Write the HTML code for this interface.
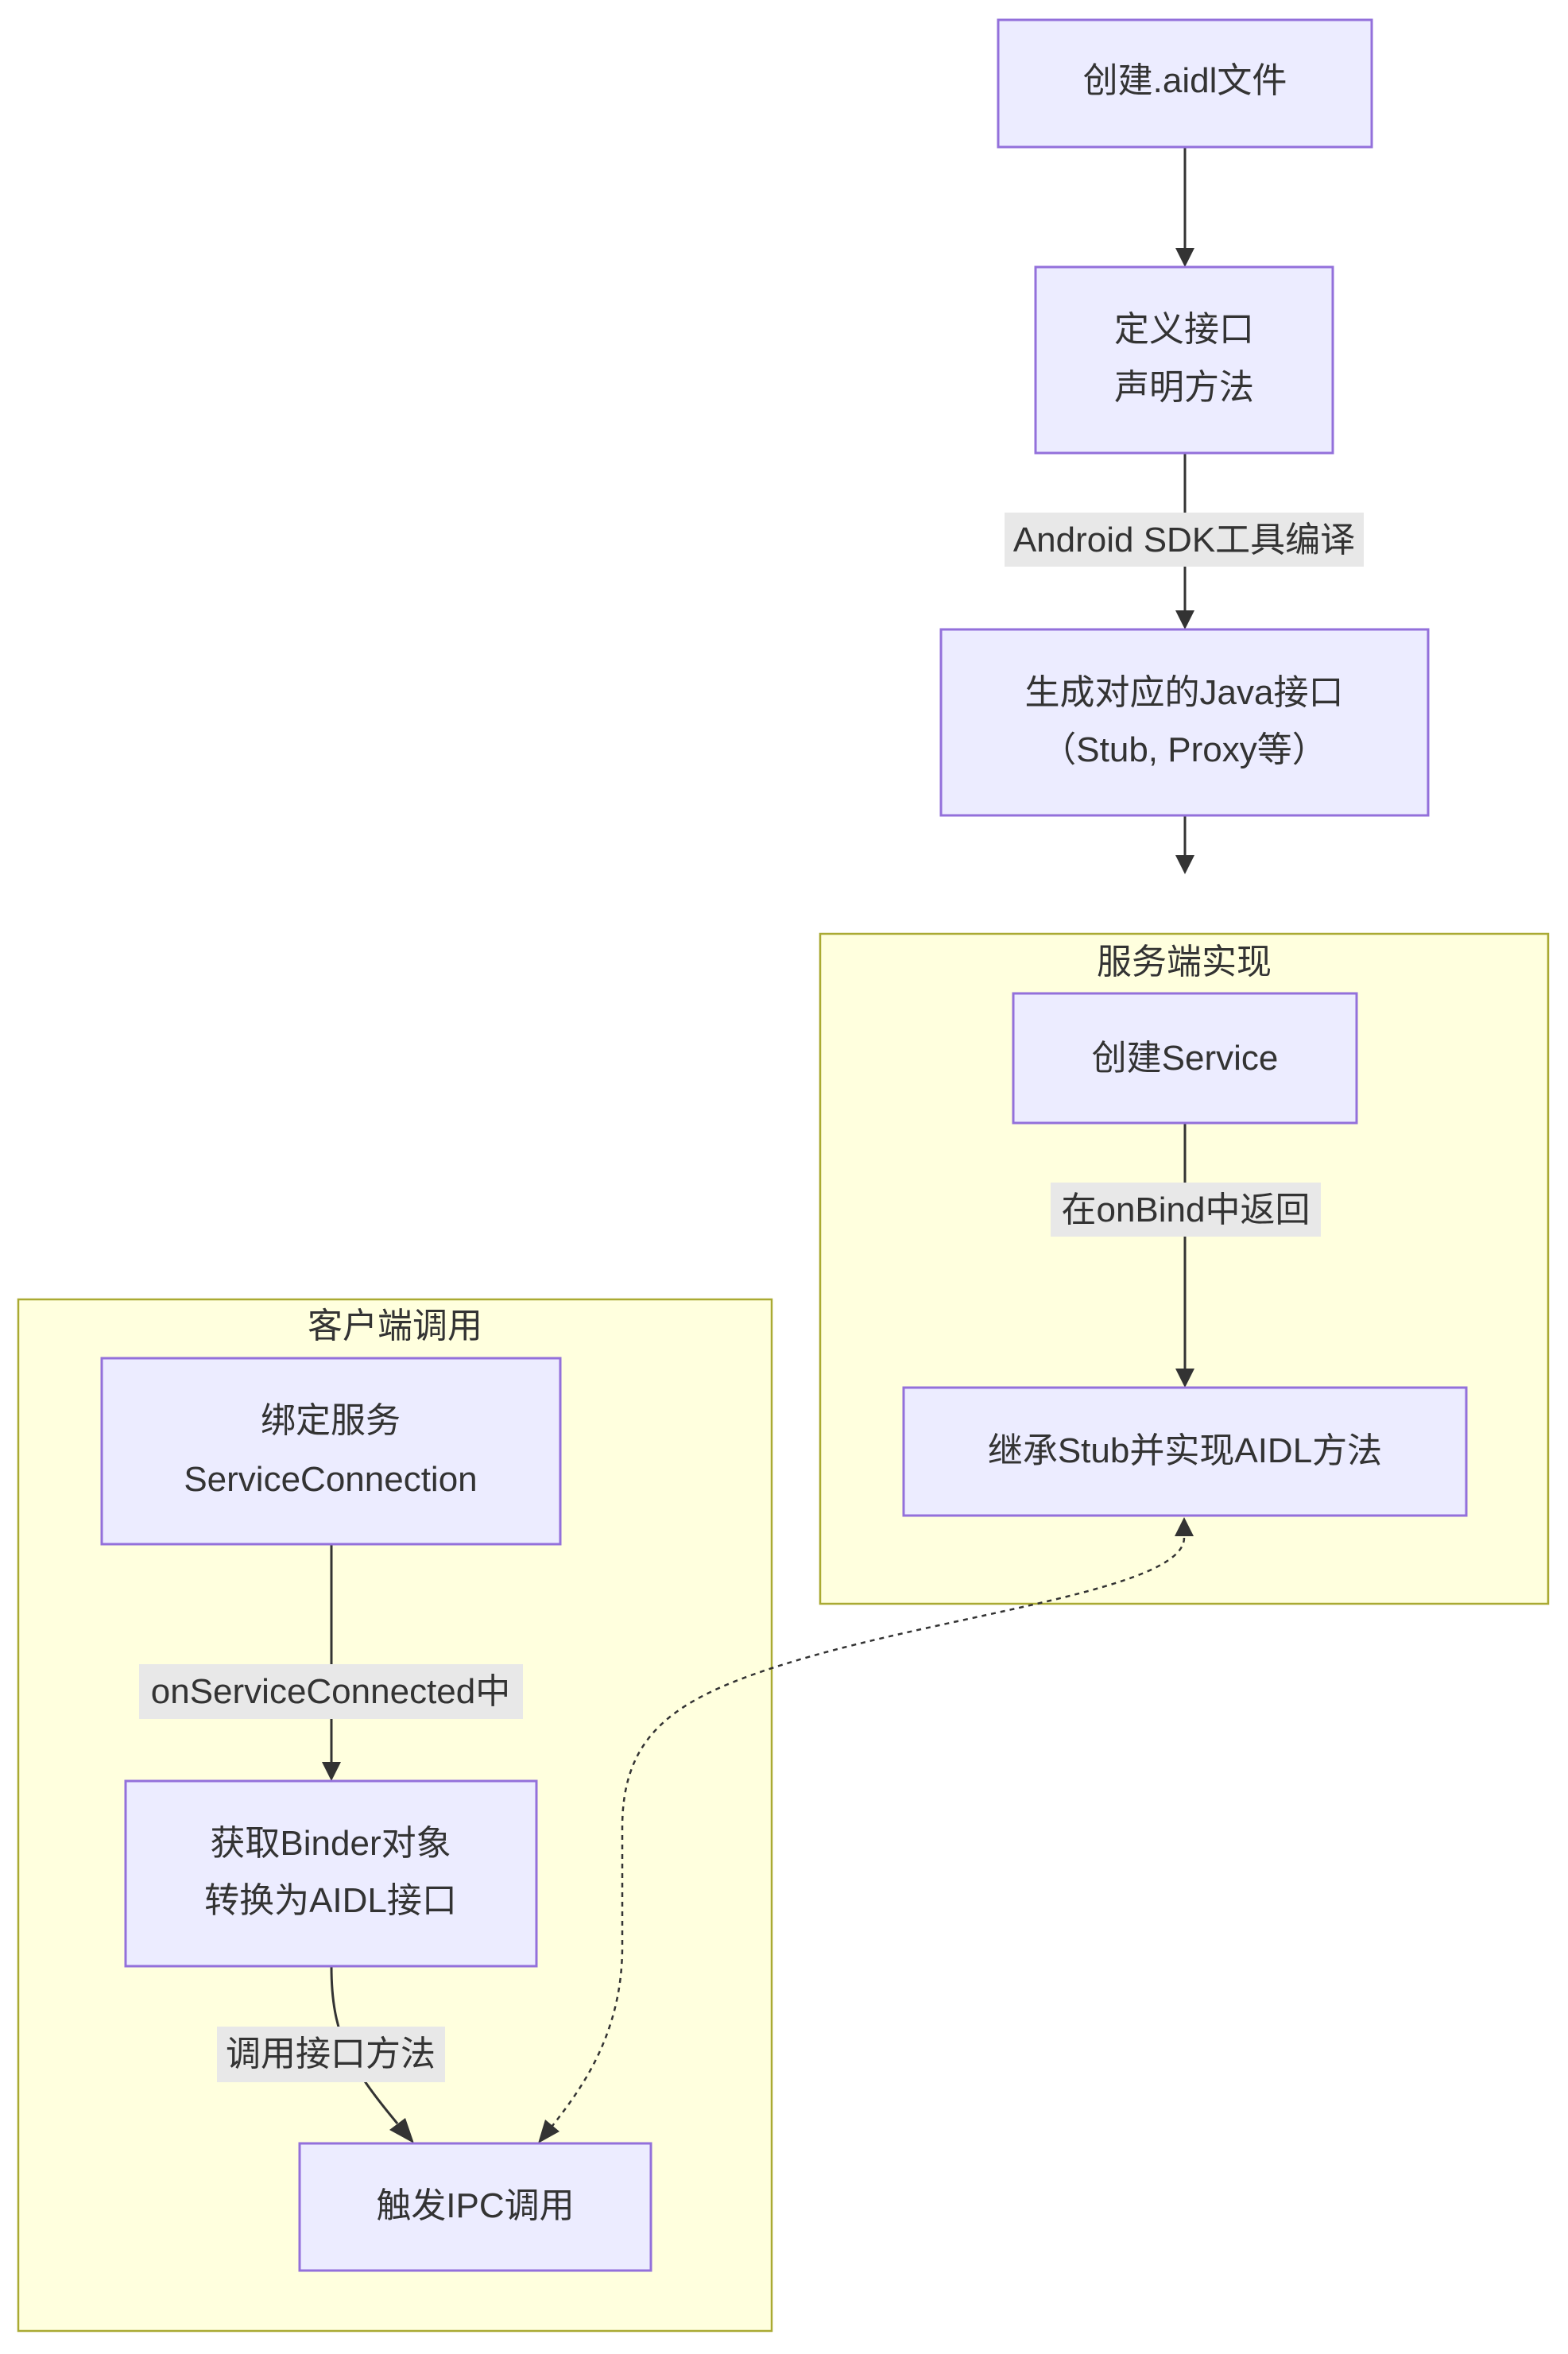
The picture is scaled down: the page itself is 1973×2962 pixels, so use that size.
<!DOCTYPE html>
<html><head><meta charset="utf-8"><style>
html,body{margin:0;padding:0;background:#fff;}
svg text{font-family:"Liberation Sans","Noto Sans CJK SC",sans-serif;fill:#333;font-size:44px;}
</style></head><body>
<svg width="1973" height="2957" viewBox="0 0 1973 2957" xmlns="http://www.w3.org/2000/svg">
<defs>
<marker id="ah" viewBox="0 0 10 10" refX="9" refY="5" markerWidth="8" markerHeight="8" markerUnits="userSpaceOnUse" orient="auto" style="overflow:visible">
<path d="M0,0 L10,5 L0,10 z" fill="#333" transform="scale(2.4) translate(-6,-3)"/>
</marker>
</defs>
<rect x="0" y="0" width="1973" height="2957" fill="#fff"/>
<!-- subgraphs -->
<rect x="1032" y="1175" width="916" height="843" fill="#ffffde" stroke="#aaaa33" stroke-width="2.5"/>
<text x="1490" y="1225" text-anchor="middle">服务端实现</text>
<rect x="23" y="1635" width="948" height="1298" fill="#ffffde" stroke="#aaaa33" stroke-width="2.5"/>
<text x="497" y="1683" text-anchor="middle">客户端调用</text>

<!-- edges -->
<g stroke="#333" stroke-width="3" fill="none">
<line x1="1491" y1="185" x2="1491" y2="312"/>
<line x1="1491" y1="570" x2="1491" y2="768"/>
<line x1="1491" y1="1026" x2="1491" y2="1078"/>
<line x1="1491" y1="1413" x2="1491" y2="1722"/>
<line x1="417" y1="1943" x2="417" y2="2217"/>
<path d="M417,2474 C417,2560 440,2600 500,2672"/>
<path d="M1490,1935 C1490,2000 1200,2030 1000,2090 C850,2135 783,2180 783,2300 L783,2450 C783,2560 730,2630 695,2675" stroke-dasharray="6,6" stroke-width="2.5"/>
</g>
<g fill="#333">
<polygon points="1479,312 1503,312 1491,336"/>
<polygon points="1479,768 1503,768 1491,792"/>
<polygon points="1479,1076 1503,1076 1491,1100"/>
<polygon points="1479,1722 1503,1722 1491,1746"/>
<polygon points="405,2217 429,2217 417,2241"/>
<polygon points="490,2680 510,2665 521,2697"/>
<polygon points="1478,1933 1502,1933 1490,1909"/>
<polygon points="686,2667 704,2682 677,2697"/>
</g>

<!-- edge labels -->
<rect x="1264" y="645" width="452" height="68" fill="#e8e8e8"/>
<text x="1490" y="694" text-anchor="middle">Android SDK工具编译</text>
<rect x="1322" y="1488" width="340" height="68" fill="#e8e8e8"/>
<text x="1492" y="1537" text-anchor="middle">在onBind中返回</text>
<rect x="175" y="2094" width="483" height="69" fill="#e8e8e8"/>
<text x="416" y="2143" text-anchor="middle">onServiceConnected中</text>
<rect x="273" y="2550" width="287" height="70" fill="#e8e8e8"/>
<text x="416" y="2599" text-anchor="middle">调用接口方法</text>

<!-- nodes -->
<g fill="#ececff" stroke="#9370db" stroke-width="3">
<rect x="1256" y="25" width="470" height="160"/>
<rect x="1303" y="336" width="374" height="234"/>
<rect x="1184" y="792" width="613" height="234"/>
<rect x="1275" y="1250" width="432" height="163"/>
<rect x="1137" y="1746" width="708" height="161"/>
<rect x="128" y="1709" width="577" height="234"/>
<rect x="158" y="2241" width="517" height="233"/>
<rect x="377" y="2697" width="442" height="160"/>
</g>
<text x="1491" y="116" text-anchor="middle">创建.aidl文件</text>
<text x="1490" y="429" text-anchor="middle">定义接口</text>
<text x="1490" y="502" text-anchor="middle">声明方法</text>
<text x="1490" y="886" text-anchor="middle">生成对应的Java接口</text>
<text x="1490" y="958" text-anchor="middle">（Stub, Proxy等）</text>
<text x="1491" y="1346" text-anchor="middle">创建Service</text>
<text x="1491" y="1840" text-anchor="middle">继承Stub并实现AIDL方法</text>
<text x="416" y="1802" text-anchor="middle">绑定服务</text>
<text x="416" y="1876" text-anchor="middle">ServiceConnection</text>
<text x="416" y="2334" text-anchor="middle">获取Binder对象</text>
<text x="416" y="2406" text-anchor="middle">转换为AIDL接口</text>
<text x="598" y="2790" text-anchor="middle">触发IPC调用</text>
</svg>
</body></html>
